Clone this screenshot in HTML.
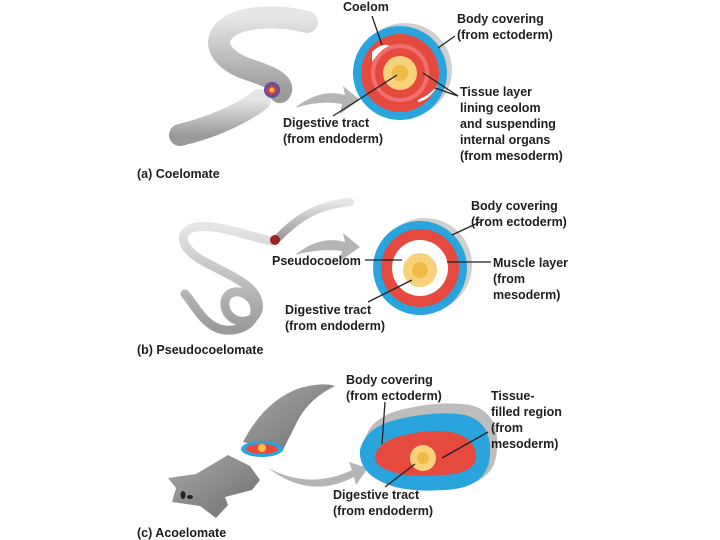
<!DOCTYPE html>
<html><head><style>
html,body{margin:0;padding:0;background:#fff;}
svg{display:block;}
text{font-family:"Liberation Sans",sans-serif;font-weight:bold;font-size:12.5px;fill:#1e1e1e;}
</style></head><body>
<svg width="720" height="540" viewBox="0 0 720 540">
<defs>
<linearGradient id="g" x1="0" y1="0" x2="0" y2="1"><stop offset="0" stop-color="#e6e6e6"/><stop offset="1" stop-color="#9a9a9a"/></linearGradient>
<linearGradient id="gd" x1="0" y1="0" x2="1" y2="1"><stop offset="0" stop-color="#a8a8a8"/><stop offset="1" stop-color="#6e6e6e"/></linearGradient>
</defs>
<!-- (a) worm -->
<path d="M307,22 C280,15 240,15 225,30 C210,45 225,62 250,70 C275,78 285,85 280,92" stroke="url(#g)" stroke-width="22" fill="none" stroke-linecap="round"/>
<path d="M260,100 C240,115 210,128 180,135" stroke="url(#g)" stroke-width="22" fill="none" stroke-linecap="round"/>
<circle cx="272" cy="90" r="8" fill="#6a4c9c"/><circle cx="272" cy="90" r="5" fill="#d04040"/><circle cx="272" cy="90" r="2.5" fill="#f5c040"/>
<path d="M295,108 Q320,88 345,95 L343,86 L360,100 L340,114 L342,104 Q320,100 295,108Z" fill="#b5b5b5"/>
<!-- (a) section -->
<circle cx="405" cy="70" r="47" fill="#cfcfcf"/>
<circle cx="400" cy="73" r="47" fill="#2aa4dc"/>
<circle cx="400" cy="73" r="39" fill="#e64a3f"/>
<path d="M372,52 Q385,40 392,48 Q380,50 372,62Z" fill="#fff"/>
<path d="M418,100 Q430,95 438,85 Q430,100 418,102Z" fill="#fff"/>
<circle cx="400" cy="73" r="27" fill="none" stroke="#f07070" stroke-width="4"/>
<circle cx="400" cy="73" r="17" fill="#f7d27a"/>
<circle cx="400" cy="73" r="8" fill="#eebb44"/>
<!-- (b) worm -->
<path d="M350,202 C320,205 300,215 278,238" stroke="url(#g)" stroke-width="8" fill="none" stroke-linecap="round"/>
<path d="M272,241 C245,236 215,222 192,228 C175,235 185,252 205,262 C235,278 262,288 258,310 C254,325 232,325 226,310 C220,292 240,285 252,300 C262,318 245,332 225,330 C205,328 195,305 185,294" stroke="url(#g)" stroke-width="9" fill="none" stroke-linecap="round"/>
<circle cx="275" cy="240" r="5" fill="#a02020"/>
<path d="M295,255 Q320,235 345,242 L343,233 L360,247 L340,261 L342,251 Q320,248 295,255Z" fill="#b5b5b5"/>
<!-- (b) section -->
<circle cx="425" cy="265" r="47" fill="#cfcfcf"/>
<circle cx="420" cy="268" r="47" fill="#2aa4dc"/>
<circle cx="420" cy="268" r="39" fill="#e64a3f"/>
<circle cx="420" cy="268" r="28" fill="#fff"/>
<circle cx="420" cy="270" r="17" fill="#f7d27a"/>
<circle cx="420" cy="270" r="8" fill="#eebb44"/>
<!-- (c) flatworm -->
<path d="M243,442 Q265,400 300,388 Q322,382 335,386 Q310,398 298,420 Q288,440 282,452 Z" fill="url(#gd)"/>
<ellipse cx="262" cy="449" rx="21" ry="8" fill="#2aa4dc"/><ellipse cx="262" cy="449" rx="16" ry="5" fill="#e64a3f"/><circle cx="262" cy="448" r="4" fill="#f5c040"/>
<path d="M228,455 L250,466 L260,480 L252,490 L225,497 L228,505 L216,518 L200,506 L172,502 L176,488 L168,478 L196,474 L218,461 Z" fill="url(#gd)"/>
<ellipse cx="183" cy="495" rx="2.5" ry="4" fill="#222"/><ellipse cx="190" cy="497" rx="3" ry="2" fill="#222"/>
<path d="M268,468 Q310,490 352,470 L349,462 L368,468 L356,485 L354,477 Q310,500 268,468Z" fill="#b5b5b5"/>
<!-- (c) section -->
<path d="M365,440 Q370,418 400,410 Q440,400 470,405 Q500,412 497,450 Q495,485 450,487 Q420,488 400,482 Q365,470 365,440Z" fill="#bdbdbd"/>
<path d="M360,450 Q365,428 395,420 Q435,410 465,415 Q492,422 490,455 Q488,488 445,490 Q415,492 395,487 Q358,476 360,450Z" fill="#2aa4dc"/>
<path d="M375,455 Q380,440 405,435 Q435,428 455,433 Q478,440 476,460 Q470,475 440,475 Q415,477 400,474 Q373,468 375,455Z" fill="#e64a3f"/>
<circle cx="423" cy="458" r="13" fill="#f7d27a"/><circle cx="423" cy="458" r="6" fill="#eebb44"/>
<!-- leaders -->
<g stroke="#222" stroke-width="1.3" fill="none">
<line x1="372" y1="16" x2="382" y2="45"/>
<line x1="455" y1="36" x2="438" y2="48"/>
<line x1="333" y1="116" x2="397" y2="75"/>
<line x1="458" y1="96" x2="423" y2="73"/>
<line x1="458" y1="96" x2="435" y2="88"/>
<line x1="480" y1="222" x2="452" y2="235"/>
<line x1="365" y1="260" x2="402" y2="260"/>
<line x1="491" y1="262" x2="447" y2="262"/>
<line x1="368" y1="302" x2="412" y2="280"/>
<line x1="385" y1="402" x2="382" y2="444"/>
<line x1="488" y1="432" x2="442" y2="458"/>
<line x1="385" y1="487" x2="415" y2="464"/>
</g>
<!-- labels -->
<text x="343" y="11">Coelom</text>
<text x="457" y="23">Body covering</text><text x="457" y="39">(from ectoderm)</text>
<text x="460" y="96">Tissue layer</text><text x="460" y="112">lining ceolom</text><text x="460" y="128">and suspending</text><text x="460" y="144">internal organs</text><text x="460" y="160">(from mesoderm)</text>
<text x="283" y="127">Digestive tract</text><text x="283" y="143">(from endoderm)</text>
<text x="137" y="178">(a) Coelomate</text>
<text x="471" y="210">Body covering</text><text x="471" y="226">(from ectoderm)</text>
<text x="272" y="265">Pseudocoelom</text>
<text x="493" y="267">Muscle layer</text><text x="493" y="283">(from</text><text x="493" y="299">mesoderm)</text>
<text x="285" y="314">Digestive tract</text><text x="285" y="330">(from endoderm)</text>
<text x="137" y="354">(b) Pseudocoelomate</text>
<text x="346" y="384">Body covering</text><text x="346" y="400">(from ectoderm)</text>
<text x="491" y="400">Tissue-</text><text x="491" y="416">filled region</text><text x="491" y="432">(from</text><text x="491" y="448">mesoderm)</text>
<text x="333" y="499">Digestive tract</text><text x="333" y="515">(from endoderm)</text>
<text x="137" y="537">(c) Acoelomate</text>
</svg>
</body></html>
